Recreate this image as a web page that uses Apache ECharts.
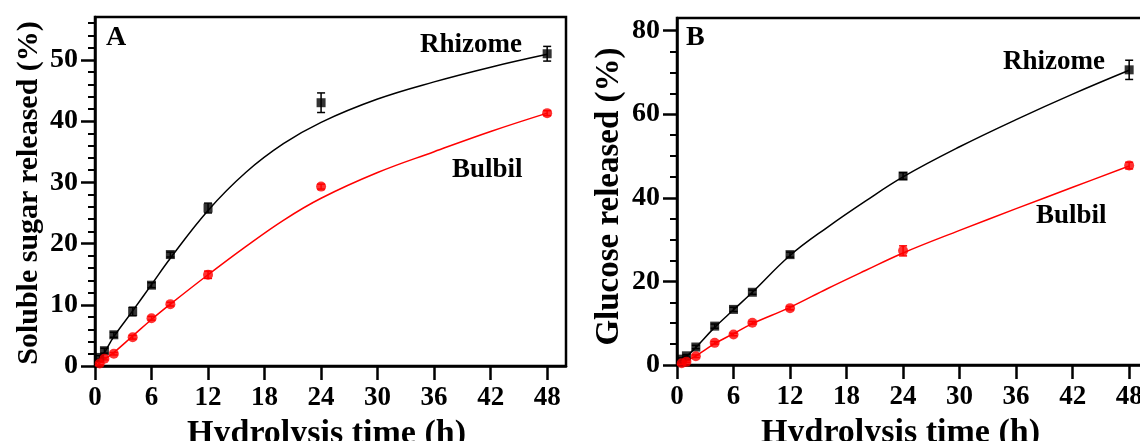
<!DOCTYPE html>
<html>
<head>
<meta charset="utf-8">
<script src="https://cdn.jsdelivr.net/npm/echarts@6.0.0/dist/echarts.min.js"></script>
<style>
  html, body { margin: 0; padding: 0; background: #fff; }
  #chart { width: 1140px; height: 441px; }
</style>
</head>
<body>
<div id="chart"></div>
<script>
// sampling times of the measured points (h)
const times = [0.5, 1, 2, 4, 6, 8, 12, 24, 48];
// panel A: soluble sugar released (%)
const rhizomeA = [1.4, 2.5, 5.1, 8.9, 13.2, 18.2, 25.8, 43.0, 51.0];
const rhizomeErrA = [0.3, 0.4, 0.4, 0.7, 0.4, 0.4, 0.8, 1.6, 1.2];
const bulbilA = [0.4, 1.2, 2.0, 4.7, 7.8, 10.1, 14.9, 29.3, 41.3];
const bulbilErrA = [0.2, 0.2, 0.2, 0.3, 0.3, 0.3, 0.6, 0.4, 0.4];
// panel B: glucose released (%)
const rhizomeB = [1.4, 2.2, 4.3, 9.3, 13.3, 17.4, 26.4, 45.2, 70.6];
const rhizomeErrB = [0.3, 0.3, 0.4, 0.5, 0.5, 0.5, 0.6, 0.8, 2.3];
const bulbilB = [0.4, 0.8, 2.1, 5.3, 7.3, 10.1, 13.6, 27.3, 47.7];
const bulbilErrB = [0.2, 0.2, 0.3, 0.3, 0.3, 0.3, 0.4, 1.2, 0.8];

// fitted curves
const fitTimes = [0, 0.5, 1, 2, 4, 6, 8, 12, 16, 20, 24, 30, 36, 42, 48];
const rhizomeFitA = [0.4, 1.2, 2.2, 4.8, 9.0, 13.3, 17.6, 25.4, 31.6, 36.3, 39.8, 43.6, 46.4, 48.8, 50.9];
const bulbilFitA = [0, 0.5, 1.1, 2.2, 4.9, 7.6, 10.1, 14.9, 19.5, 23.8, 27.4, 31.6, 35.0, 38.3, 41.3];
const rhizomeFitB = [0.5, 1.2, 2.0, 4.2, 9.0, 13.2, 17.4, 26.2, 33.0, 39.2, 45.0, 52.2, 58.7, 64.8, 70.5];
const bulbilFitB = [0, 0.5, 1.0, 2.2, 5.1, 7.5, 9.9, 13.8, 18.3, 22.6, 26.8, 32.2, 37.4, 42.5, 47.6];

// tick labels
const xTicks = [0, 6, 12, 18, 24, 30, 36, 42, 48];
const yTicksA = [0, 10, 20, 30, 40, 50];
const yTicksB = [0, 20, 40, 60, 80];

const FONT = 'Liberation Serif';
const chart = echarts.init(document.getElementById('chart'));

function pairs(xs, ys) {
  return xs.map((x, i) => [x, ys[i]]);
}
function errData(ys, errs) {
  return times.map((t, i) => [t, ys[i] - errs[i], ys[i] + errs[i]]);
}
function renderErr(params, api) {
  const lo = api.coord([api.value(0), api.value(1)]);
  const hi = api.coord([api.value(0), api.value(2)]);
  const w = 4;
  const style = { stroke: api.visual('color'), lineWidth: 1.5 };
  return {
    type: 'group',
    children: [
      { type: 'line', shape: { x1: lo[0], y1: lo[1], x2: hi[0], y2: hi[1] }, style: style },
      { type: 'line', shape: { x1: lo[0] - w, y1: lo[1], x2: lo[0] + w, y2: lo[1] }, style: style },
      { type: 'line', shape: { x1: hi[0] - w, y1: hi[1], x2: hi[0] + w, y2: hi[1] }, style: style }
    ]
  };
}

function xAxisFor(idx) {
  return {
    type: 'value', gridIndex: idx, min: 0, max: 50, interval: 6,
    name: 'Hydrolysis time (h)', nameLocation: 'middle', nameGap: 38,
    nameTextStyle: { fontFamily: FONT, fontWeight: 'bold', fontSize: 34, color: '#000',
      padding: idx === 1 ? [0, 24, 0, 0] : [0, 8, 0, 0] },
    axisLine: { show: true, onZero: false, lineStyle: { color: '#000', width: 2.5 } },
    axisTick: { show: true, length: 14, customValues: xTicks, lineStyle: { color: '#000', width: 2.5 } },
    axisLabel: { customValues: xTicks, margin: 19, fontFamily: FONT, fontWeight: 'bold', fontSize: 27, color: '#000' },
    splitLine: { show: false }
  };
}
function yAxisFor(idx, name, max, interval, ticks, minorSplit, gap, nameSize, namePad) {
  return {
    type: 'value', gridIndex: idx, min: 0, max: max, interval: interval,
    name: name, nameLocation: 'middle', nameGap: gap,
    nameTextStyle: { fontFamily: FONT, fontWeight: 'bold', fontSize: nameSize, color: '#000', padding: namePad },
    axisLine: { show: true, onZero: false, lineStyle: { color: '#000', width: 2.5 } },
    axisTick: { show: true, length: 14, customValues: ticks, lineStyle: { color: '#000', width: 2.5 } },
    minorTick: { show: true, splitNumber: minorSplit, length: 7, lineStyle: { color: '#000', width: 2 } },
    axisLabel: { customValues: ticks, margin: 17, fontFamily: FONT, fontWeight: 'bold', fontSize: 28, color: '#000' },
    splitLine: { show: false },
    minorSplitLine: { show: false }
  };
}

function panelSeries(idx, rFit, bFit, r, rErr, b, bErr) {
  return [
    { type: 'line', xAxisIndex: idx, yAxisIndex: idx, data: pairs(fitTimes, rFit), smooth: 0.4,
      showSymbol: false, lineStyle: { color: '#000', width: 1.5 }, z: 2 },
    { type: 'line', xAxisIndex: idx, yAxisIndex: idx, data: pairs(fitTimes, bFit), smooth: 0.4,
      showSymbol: false, lineStyle: { color: '#ff0000', width: 1.5 }, z: 2 },
    { type: 'custom', xAxisIndex: idx, yAxisIndex: idx, data: errData(r, rErr), renderItem: renderErr,
      itemStyle: { color: '#000' }, z: 3 },
    { type: 'custom', xAxisIndex: idx, yAxisIndex: idx, data: errData(b, bErr), renderItem: renderErr,
      itemStyle: { color: '#ff0000' }, z: 3 },
    { type: 'scatter', xAxisIndex: idx, yAxisIndex: idx, data: pairs(times, r), symbol: 'rect',
      symbolSize: 9, itemStyle: { color: '#000' }, z: 4 },
    { type: 'scatter', xAxisIndex: idx, yAxisIndex: idx, data: pairs(times, b), symbol: 'circle',
      symbolSize: 10, itemStyle: { color: '#ff0000' }, z: 4 }
  ];
}

function label(text, x, y, size) {
  return { type: 'text', left: x, top: y, z: 10,
    style: { text: text, fontFamily: FONT, fontWeight: 'bold', fontSize: size, fill: '#000' } };
}

const option = {
  animation: false,
  backgroundColor: '#fff',
  grid: [
    { left: 95, top: 17, right: 574, bottom: 75, show: true, borderColor: '#000', borderWidth: 2.5,
      containLabel: false, outerBoundsMode: 'none' },
    { left: 677, top: 18, right: -8, bottom: 76, show: true, borderColor: '#000', borderWidth: 2.5,
      containLabel: false, outerBoundsMode: 'none' }
  ],
  xAxis: [xAxisFor(0), xAxisFor(1)],
  yAxis: [
    yAxisFor(0, 'Soluble sugar released (%)', 57, 10, yTicksA, 5, 51, 30, [0, 3, 0, 0]),
    yAxisFor(1, 'Glucose released (%)', 83, 20, yTicksB, 4, 51, 33, [0, 10, 0, 0])
  ],
  series: [].concat(
    panelSeries(0, rhizomeFitA, bulbilFitA, rhizomeA, rhizomeErrA, bulbilA, bulbilErrA),
    panelSeries(1, rhizomeFitB, bulbilFitB, rhizomeB, rhizomeErrB, bulbilB, bulbilErrB)
  ),
  graphic: [
    label('A', 106, 24, 28),
    label('B', 686, 24, 28),
    label('Rhizome', 420, 32, 27),
    label('Bulbil', 452, 157, 27),
    label('Rhizome', 1003, 49, 27),
    label('Bulbil', 1036, 203, 27)
  ]
};
chart.setOption(option);
</script>
</body>
</html>
